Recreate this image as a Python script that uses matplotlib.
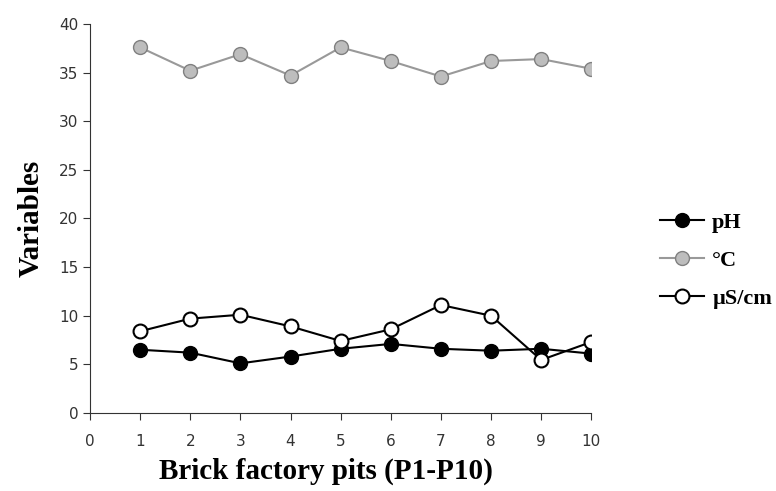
import matplotlib
matplotlib.use("Agg")
import matplotlib.pyplot as plt

# pits P1-P10
pits = [1, 2, 3, 4, 5, 6, 7, 8, 9, 10]
ph = [6.5, 6.2, 5.1, 5.8, 6.6, 7.1, 6.6, 6.4, 6.6, 6.1]
temp_c = [37.6, 35.2, 36.9, 34.7, 37.6, 36.2, 34.6, 36.2, 36.4, 35.4]
cond = [8.4, 9.7, 10.1, 8.9, 7.4, 8.6, 11.1, 10.0, 5.45, 7.3]

fig = plt.figure(figsize=(7.76, 4.91), dpi=100)
ax = fig.add_axes([0.116, 0.159, 0.646, 0.792])

ax.plot(pits, ph, color='black', lw=1.5, marker='o', ms=10,
        mfc='black', mec='black', label='pH')
ax.plot(pits, temp_c, color='#999999', lw=1.5, marker='o', ms=10,
        mfc='#bdbdbd', mec='#808080', label='°C')
ax.plot(pits, cond, color='black', lw=1.5, marker='o', ms=10,
        mfc='white', mec='black', mew=1.5, label='µS/cm')

ax.set_xlim(0, 10)
ax.set_ylim(0, 40)
ax.set_xticks(range(0, 11))
ax.set_yticks(range(0, 41, 5))
ax.spines['top'].set_visible(False)
ax.spines['right'].set_visible(False)
ax.spines['left'].set_color('#333333')
ax.spines['bottom'].set_color('#333333')
ax.tick_params(direction='out', length=5, colors='#333333', labelsize=11,
               labelcolor='#333333')
ax.tick_params(axis='x', pad=10)

serif = {'family': 'Liberation Serif', 'weight': 'bold'}
ax.set_xlabel('Brick factory pits (P1-P10)', fontdict=serif, fontsize=21, labelpad=2)
ax.xaxis.set_label_coords(0.471, -0.115)
ax.set_ylabel('Variables', fontdict=serif, fontsize=21, labelpad=10)

leg = fig.legend(loc='upper left', bbox_to_anchor=(660 / 776, 1 - 212 / 491),
                 frameon=False, borderpad=0, borderaxespad=0,
                 prop={'family': 'Liberation Serif', 'weight': 'bold', 'size': 16},
                 handlelength=2.0, labelspacing=0.8, handletextpad=0.35)

fig.savefig('out.png', dpi=100)
